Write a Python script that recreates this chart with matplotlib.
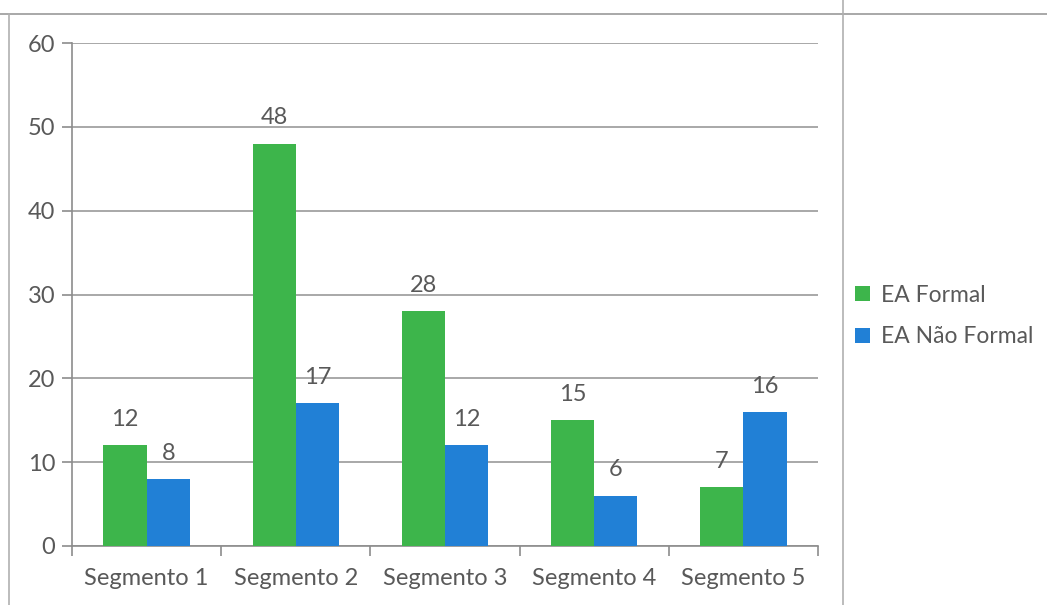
import matplotlib
matplotlib.use("Agg")
import matplotlib.pyplot as plt
import numpy as np
from matplotlib.lines import Line2D

categories = ["Segmento 1", "Segmento 2", "Segmento 3", "Segmento 4", "Segmento 5"]
formal = [12, 48, 28, 15, 7]
nao_formal = [8, 17, 12, 6, 16]
series_names = ["EA Formal", "EA Não Formal"]
colors = ["#3db54b", "#2180d6"]
text_color = "#595959"

plt.rcParams['font.family'] = ['Lato', 'DejaVu Sans']
FS = 17

fig = plt.figure(figsize=(10.47, 6.05), dpi=100)
ax = fig.add_axes([72/1047, 1-546/605, (818-72)/1047, (546-43)/605])

x = np.arange(len(categories))
w = 0.29
b1 = ax.bar(x - w/2, formal, w, color=colors[0], label=series_names[0], zorder=3)
b2 = ax.bar(x + w/2, nao_formal, w, color=colors[1], label=series_names[1], zorder=3)

for bars, vals in ((b1, formal), (b2, nao_formal)):
    for r, v in zip(bars, vals):
        ax.annotate(str(v), (r.get_x() + r.get_width()/2, v), xytext=(0, 11),
                    textcoords="offset points", ha="center", va="bottom",
                    fontsize=FS, color=text_color)

ax.set_xlim(-0.5, len(categories) - 0.5)
ax.set_ylim(0, 60)
ax.set_yticks(range(0, 61, 10))
ax.set_xticks(x)
ax.set_xticklabels(categories)
ax.set_xticks(np.arange(-0.5, len(categories), 1), minor=True)
ax.tick_params(axis='x', which='major', length=0, pad=16, labelsize=FS, labelcolor=text_color)
ax.tick_params(axis='x', which='minor', length=7, color="#8c8c8c", width=1.2, direction='out')
ax.tick_params(axis='y', length=7, color="#8c8c8c", width=1.2, labelsize=FS, labelcolor=text_color, pad=5)
ax.grid(axis='y', color="#9a9a9a", linewidth=1.2, zorder=0)
for s in ("top", "right"):
    ax.spines[s].set_visible(False)
for s in ("left", "bottom"):
    ax.spines[s].set_color("#8c8c8c")
    ax.spines[s].set_linewidth(1.2)

fig.legend(handles=[b1, b2], labels=series_names, loc="center left",
           bbox_to_anchor=(834/1047, 1-316/605), frameon=False, fontsize=16.5,
           labelcolor=text_color, handlelength=0.65, handleheight=0.65,
           handletextpad=0.5, labelspacing=0.9)

# frame lines
fig.add_artist(Line2D([0, 1], [1-14/605, 1-14/605], color="#9a9a9a", lw=1.2, transform=fig.transFigure))
fig.add_artist(Line2D([9/1047, 9/1047], [0, 1-14/605], color="#b0b0b0", lw=1.2, transform=fig.transFigure))
fig.add_artist(Line2D([843/1047, 843/1047], [0, 1], color="#b0b0b0", lw=1.2, transform=fig.transFigure))

fig.savefig("out.png", dpi=100)
